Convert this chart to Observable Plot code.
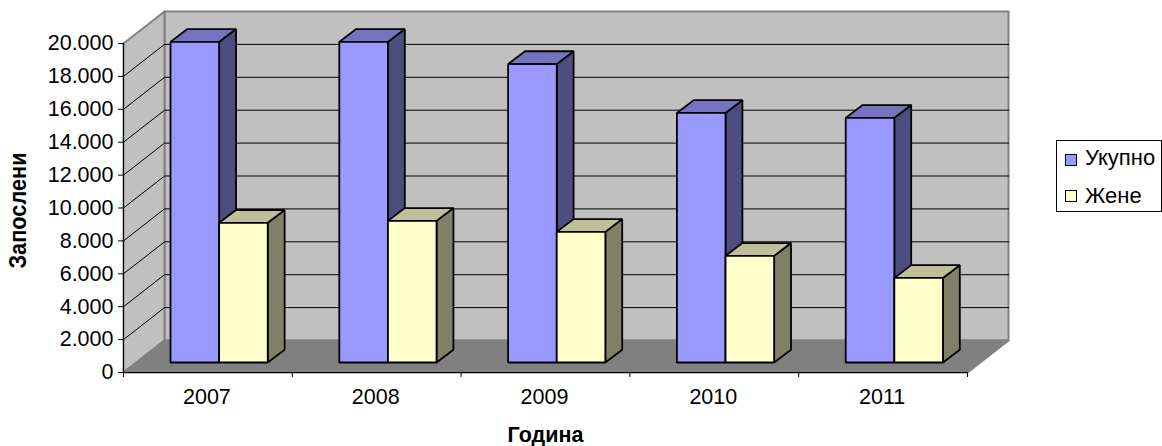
<!DOCTYPE html>
<html>
<head>
<meta charset="utf-8">
<script src="https://cdn.jsdelivr.net/npm/d3@7"></script>
<script src="https://cdn.jsdelivr.net/npm/@observablehq/plot@0.6"></script>
<style>
html,body{margin:0;padding:0;background:#fff;width:1162px;height:446px;overflow:hidden;position:relative;font-family:"Liberation Sans",Arial,sans-serif;}
#legend{position:absolute;left:1056px;top:140px;width:104px;height:70px;border:1px solid #000;background:#fff;font-size:22px;color:#000;}
.row{position:absolute;left:8px;display:flex;align-items:center;height:24px;line-height:24px;white-space:nowrap;}
.sw{width:10px;height:10px;border:1.5px solid #000;margin-right:8px;}
svg{display:block}
</style>
</head>
<body>
<div id="chart"></div>
<div id="legend"></div>
<script>
const years = ["2007", "2008", "2009", "2010", "2011"];
const total = [19490, 19490, 18140, 15170, 14870];
const women = [8490, 8610, 7940, 6480, 5140];
const seriesNames = ["Укупно", "Жене"];
const frontColors = ["#9999ff", "#ffffcc"];
const topColors = ["#7373bf", "#bfbf99"];
const sideColors = ["#4d4d80", "#808066"];
const yTicks = d3.range(0, 20001, 2000);

// oblique projection, expressed in data units
const wallDx = 0.243, wallDy = 1945;
const barStart = 0.2785, barW = 0.288, barBase = 608, barDx = 0.1, barDy = 780;

const fmt = d3.formatLocale({decimal: ",", thousands: ".", grouping: [3], currency: ["", ""]}).format(",");

const rows = [];
const poly = (id, c, pts) => pts.forEach(([x, y]) => rows.push({id, c, x, y}));
years.forEach((yr, i) => {
  [total, women].forEach((vals, s) => {
    const x0 = i + barStart + s * barW, x1 = x0 + barW;
    const y0 = barBase, y1 = barBase + vals[i];
    poly(`${yr}-${s}-side`, sideColors[s], [[x1, y0], [x1 + barDx, y0 + barDy], [x1 + barDx, y1 + barDy], [x1, y1]]);
    poly(`${yr}-${s}-top`, topColors[s], [[x0, y1], [x1, y1], [x1 + barDx, y1 + barDy], [x0 + barDx, y1 + barDy]]);
    poly(`${yr}-${s}-front`, frontColors[s], [[x0, y0], [x1, y0], [x1, y1], [x0, y1]]);
  });
});

const n = years.length, yMax = 20000;
const wall = (id, c, pts) => pts.map(([x, y]) => ({id, c, x, y}));
const walls = [
  ...wall("back", "#c0c0c0", [[wallDx, wallDy], [n + wallDx, wallDy], [n + wallDx, yMax + wallDy], [wallDx, yMax + wallDy]]),
  ...wall("side", "#c0c0c0", [[0, 0], [wallDx, wallDy], [wallDx, yMax + wallDy], [0, yMax]]),
  ...wall("floor", "#808080", [[0, 0], [n, 0], [n + wallDx, wallDy], [wallDx, wallDy]])
];
const grid = yTicks.filter(t => t > 0 && t < yMax).flatMap(t => [
  {t, x: 0, y: t}, {t, x: wallDx, y: t + wallDy}, {t, x: n + wallDx, y: t + wallDy}
]);

const font = {fontFamily: "Liberation Sans, Arial, sans-serif"};
const chart = Plot.plot({
  width: 1162, height: 446,
  marginLeft: 123, marginRight: 195, marginTop: 43, marginBottom: 74,
  x: {domain: [0, n], label: null},
  y: {domain: [0, yMax], label: null},
  color: {type: "identity"},
  style: {background: "#fff", ...font},
  marks: [
    Plot.line(walls, {x: "x", y: "y", z: "id", fill: "c", stroke: "#808080", strokeWidth: 2, curve: "linear-closed"}),
    Plot.line(grid, {x: "x", y: "y", z: "t", stroke: "#000", strokeWidth: 1}),
    Plot.line(rows, {x: "x", y: "y", z: "id", fill: "c", stroke: "#000", strokeWidth: 1.8, curve: "linear-closed", strokeLinejoin: "miter"}),
    Plot.ruleX([0], {y1: 0, y2: yMax, stroke: "#000", strokeWidth: 1}),
    Plot.ruleY([0], {x1: 0, x2: n, stroke: "#000", strokeWidth: 1}),
    Plot.axisY({ticks: yTicks, tickSize: 5, tickPadding: 5, tickFormat: fmt, fontSize: 21.5, stroke: "#000", fill: "#000", label: null}),
    Plot.axisX({ticks: d3.range(0, n + 1), tickSize: 5, tickFormat: () => "", stroke: "#000", label: null}),
    Plot.axisX({ticks: d3.range(0, n).map(i => i + 0.5), tickSize: 0, tickPadding: 16, dx: -1, tickFormat: v => years[Math.floor(v)], fontSize: 21.5, fill: "#000", label: null}),
    Plot.text(["Година"], {frameAnchor: "bottom", dy: 69, text: d => d, fontSize: 21.5, fontWeight: "bold", fill: "#000"}),
    Plot.text(["Запослени"], {frameAnchor: "left", textAnchor: "middle", dx: -104.5, dy: 2.5, rotate: -90, text: d => d, fontSize: 23, fontWeight: "bold", fill: "#000"})
  ]
});
document.getElementById("chart").append(chart);
d3.select(chart).selectAll("text").filter(function () { return this.textContent === "Запослени"; })
  .attr("textLength", 116).attr("lengthAdjust", "spacingAndGlyphs");

const legend = document.getElementById("legend");
seriesNames.forEach((name, s) => {
  const r = document.createElement("div");
  r.className = "row";
  r.style.top = (5 + s * 38) + "px";
  const sw = document.createElement("span");
  sw.className = "sw";
  sw.style.background = frontColors[s];
  sw.style.transform = `translateY(${s === 0 ? 2 : 0}px)`;
  r.append(sw, document.createTextNode(name));
  legend.append(r);
});
</script>
</body>
</html>
